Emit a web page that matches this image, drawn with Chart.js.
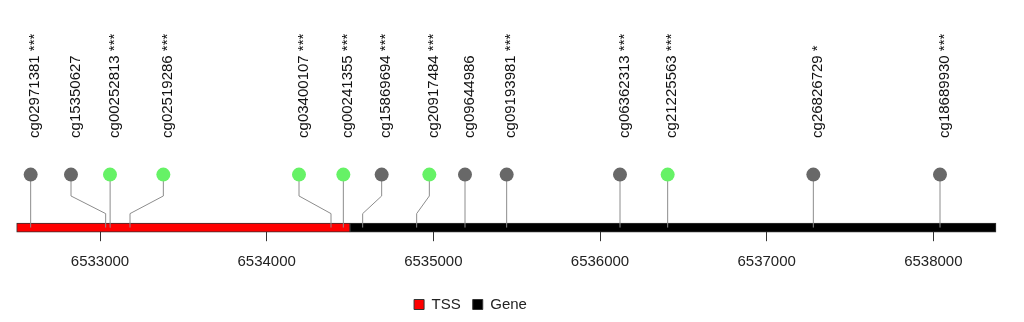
<!DOCTYPE html>
<html>
<head>
<meta charset="utf-8">
<script src="https://cdn.jsdelivr.net/npm/chart.js"></script>
<style>
  html, body { margin: 0; padding: 0; background: #fff; }
  #wrap { width: 1024px; height: 322px; }
</style>
</head>
<body>
<div id="wrap"><canvas id="cpgChart"></canvas></div>
<script>
const probes = [
  "cg02971381", "cg15350627", "cg00252813", "cg02519286", "cg03400107",
  "cg00241355", "cg15869694", "cg20917484", "cg09644986", "cg09193981",
  "cg06362313", "cg21225563", "cg26826729", "cg18689930"
];
// where each stem meets the gene track
const probePos = [
  6532584, 6533034, 6533062, 6533180, 6534386,
  6534460, 6534576, 6534900, 6535190, 6535440,
  6536120, 6536406, 6537280, 6538040
];
// where the lollipop head sits once labels are spread apart
const markerPos = [
  6532584, 6532826, 6533060, 6533380, 6534194,
  6534460, 6534690, 6534976, 6535190, 6535440,
  6536120, 6536406, 6537280, 6538040
];
const probeStars = ["***", "", "***", "***", "***", "***", "***", "***", "", "***", "***", "***", "*", "***"];
const probeColors = [
  "#686868", "#686868", "#66f266", "#66f266", "#66f266",
  "#66f266", "#686868", "#66f266", "#686868", "#686868",
  "#686868", "#66f266", "#686868", "#686868"
];
const tssRange = [6532500, 6534500];
const geneRange = [6534500, 6538376];
const xTicks = [6533000, 6534000, 6535000, 6536000, 6537000, 6538000];

// track heights (y units)
const kinkLow = 3, kinkHigh = 6.8, headY = 11.4, labelY = 19.3;
const font = "Liberation Sans, Arial, sans-serif";

function track(range, label, color) {
  return {
    type: "bar",
    label: label,
    indexAxis: "y",
    data: [{x: range, y: 0}],
    backgroundColor: color,
    borderColor: "#333",
    borderWidth: 1,
    borderSkipped: false,
    grouped: false,
    barThickness: 9,
    maxBarThickness: 9,
    clip: false,
    order: 3
  };
}

const stems = probes.map((p, i) => ({
  data: [
    {x: probePos[i], y: 0}, {x: probePos[i], y: kinkLow},
    {x: markerPos[i], y: kinkHigh}, {x: markerPos[i], y: headY}
  ],
  borderColor: "#8c8c8c",
  borderWidth: 1,
  pointRadius: 0,
  fill: false,
  order: 2
}));

const heads = {
  data: markerPos.map(x => ({x: x, y: headY})),
  showLine: false,
  pointRadius: 7,
  pointHoverRadius: 7,
  pointBackgroundColor: probeColors,
  pointBorderWidth: 0,
  clip: false,
  order: 1
};

const probeLabels = {
  id: "probeLabels",
  afterDatasetsDraw(chart) {
    const {ctx, scales} = chart;
    ctx.save();
    ctx.font = "15px " + font;
    ctx.fillStyle = "#111";
    ctx.textAlign = "left";
    ctx.textBaseline = "alphabetic";
    probes.forEach((p, i) => {
      const x = scales.x.getPixelForValue(markerPos[i]) + 8.5;
      const y = scales.y.getPixelForValue(labelY);
      ctx.save();
      ctx.translate(x, y);
      ctx.rotate(-Math.PI / 2);
      ctx.fillText(probeStars[i] ? p + " " + probeStars[i] : p, 0, 0);
      ctx.restore();
    });
    ctx.restore();
  }
};

new Chart("cpgChart", {
  type: "line",
  data: {
    datasets: [track(tssRange, "TSS", "#ff0000"), track(geneRange, "Gene", "#000000"), ...stems, heads]
  },
  options: {
    responsive: true,
    maintainAspectRatio: false,
    animation: false,
    events: [],
    layout: { autoPadding: false, padding: { top: 0, left: 0, right: 83, bottom: 0 } },
    scales: {
      x: {
        type: "linear",
        min: 6532400,
        max: 6538046,
        afterBuildTicks: axis => { axis.ticks = xTicks.map(v => ({value: v})); },
        afterFit: axis => { axis.paddingLeft = 0; axis.paddingRight = 0; },
        ticks: {
          padding: 11.4,
          color: "#222",
          font: { family: font, size: 15 },
          callback: v => String(v)
        },
        grid: { drawOnChartArea: false, tickLength: 9, color: "#333" },
        border: { display: false },
        title: { display: true, text: "", padding: { top: 0, bottom: 0 }, font: { size: 2.5 } }
      },
      y: { type: "linear", display: false, offset: false, min: -1, max: 49 }
    },
    plugins: {
      legend: {
        position: "bottom",
        labels: {
          filter: item => item.text === "TSS" || item.text === "Gene",
          boxWidth: 10,
          boxHeight: 10,
          padding: 12,
          color: "#222",
          font: { family: font, size: 15 }
        }
      },
      tooltip: { enabled: false }
    }
  },
  plugins: [probeLabels]
});
</script>
</body>
</html>
